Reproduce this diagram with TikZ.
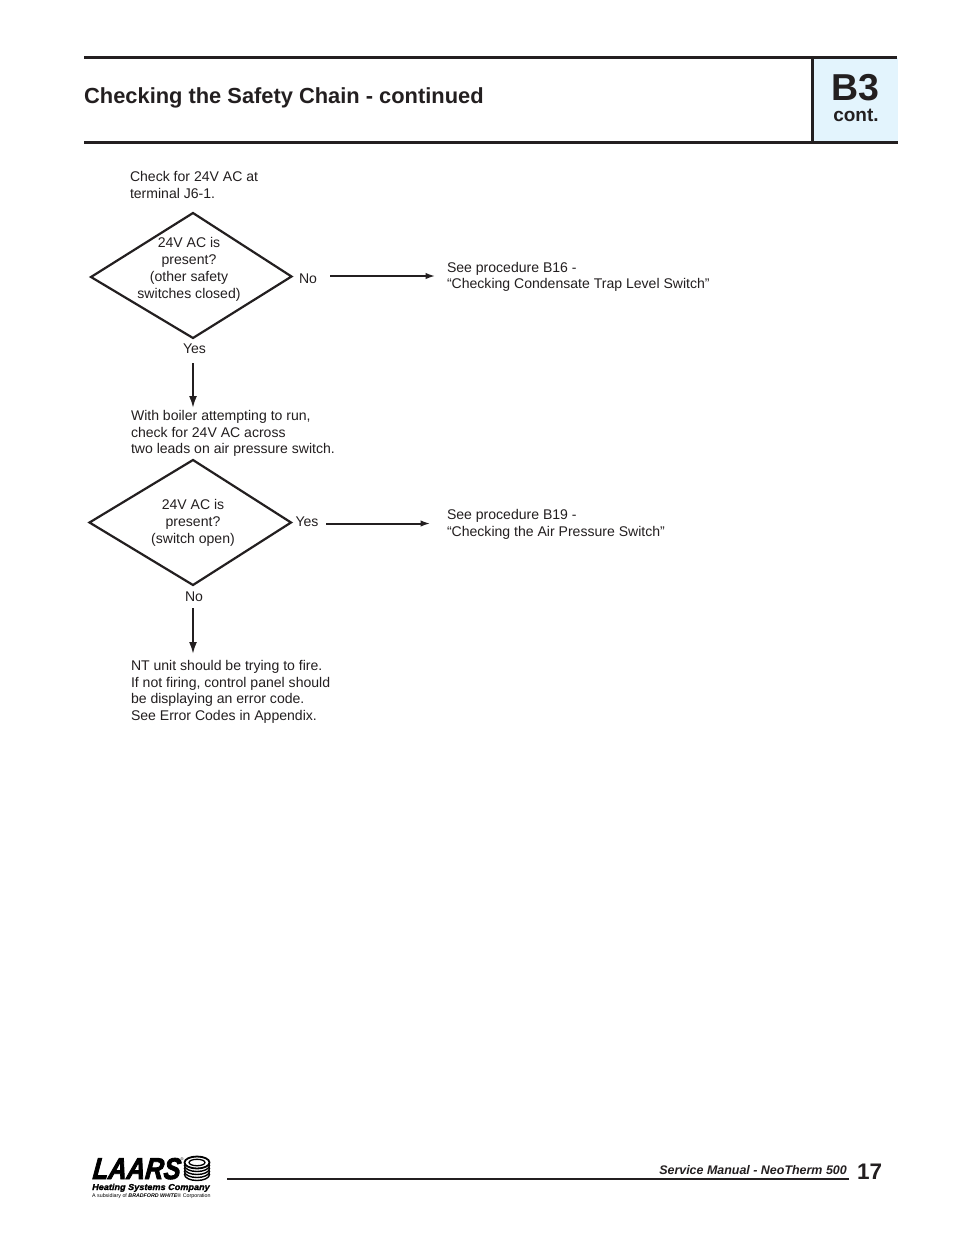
\documentclass[tikz,border=0pt]{standalone}
\usepackage{fontspec}
\setmainfont{Liberation Sans}
\newfontfamily\logofont{Liberation Sans}[BoldItalicFeatures={FakeBold=3,FakeSlant=0.12}]
\newfontfamily\logosmall{Liberation Sans}[BoldItalicFeatures={FakeBold=1.5}]
\usetikzlibrary{arrows.meta}
\definecolor{ink}{HTML}{231F20}
\definecolor{tabblue}{HTML}{E3F4FD}
\tikzset{
  txt/.style={inner sep=0pt,outer sep=0pt,text=ink,align=left,font=\fontsize{14.05}{16.6}\selectfont},
  ctxt/.style={inner sep=0pt,outer sep=0pt,text=ink,align=center,font=\fontsize{14.05}{17}\selectfont},
  lab/.style={inner sep=0pt,outer sep=0pt,text=ink,font=\fontsize{14.05}{16.6}\selectfont},
  dec/.style={draw=ink,line width=2.2pt,miter limit=10,line join=miter},
  arr/.style={draw=ink,line width=2pt,-{Latex[length=12pt,width=8pt]}},
  arrh/.style={draw=ink,line width=2pt,-{Latex[length=10pt,width=6.5pt]}},
  rule/.style={draw=ink,line width=3pt}
}
\begin{document}
\begin{tikzpicture}[x=1pt,y=-1pt]
\useasboundingbox (0,0) rectangle (954,1235);
\fill[white] (0,0) rectangle (954,1235);
% header
\fill[tabblue] (812,58) rectangle (898,142);
\draw[rule] (84,57.500) -- (897,57.500);
\draw[rule] (84,142) -- (898,142);
\draw[rule] (812,58) -- (812,142);
\node[anchor=base west,inner sep=0pt,text=ink,font=\fontsize{21.85}{26}\selectfont\bfseries] (title) at (84,103) {Checking the Safety Chain - continued};
\node[anchor=base,inner sep=0pt,text=ink,font=\fontsize{37.5}{44}\selectfont\bfseries] (b3) at (855,100) {B3};
\node[anchor=base,inner sep=0pt,text=ink,font=\fontsize{19}{22}\selectfont\bfseries] (cont) at (856,121) {cont.};
% flow
\node[txt,anchor=north west] (check) at (130,171.300) {Check for 24V AC at\\terminal J6-1.};
\draw[dec] (193,213) -- (291.500,276.500) -- (193,338) -- (91,277) -- cycle;
\node[ctxt,anchor=north] (d1t) at (189,237) {24V AC is\\present?\\(other safety\\switches closed)};
\node[lab,anchor=base west] (no1) at (299,283) {No};
\node[txt,anchor=north west] (see1) at (447,262) {See procedure B16 -\\“Checking Condensate Trap Level Switch”};
\node[lab,anchor=base] (yes1) at (194.500,353) {Yes};
\node[txt,anchor=north west] (run) at (131,410.300) {With boiler attempting to run,\\check for 24V AC across\\two leads on air pressure switch.};
\draw[dec] (193,460) -- (291,522.500) -- (193,585) -- (89.500,522.500) -- cycle;
\node[ctxt,anchor=north] (d2t) at (193,499.300) {24V AC is\\present?\\(switch open)};
\node[lab,anchor=base west] (yes2) at (295.500,526) {Yes};
\node[txt,anchor=north west] (see2) at (447,509.300) {See procedure B19 -\\“Checking the Air Pressure Switch”};
\node[lab,anchor=base] (no2) at (194,601) {No};
\node[txt,anchor=north west] (nt) at (131,660.300) {NT unit should be trying to fire.\\If not firing, control panel should\\be displaying an error code.\\See Error Codes in Appendix.};
\coordinate (a1s) at (330,276);
\coordinate (a1e) at (435.500,276);
\coordinate (a2s) at (193,363);
\coordinate (a2e) at (193,408);
\coordinate (a3s) at (326,523.500);
\coordinate (a3e) at (430.500,523.500);
\coordinate (a4s) at (193,608);
\coordinate (a4e) at (193,654);
\draw[arrh] (a1s) -- (a1e);
\draw[arr] (a2s) -- (a2e);
\draw[arrh] (a3s) -- (a3e);
\draw[arr] (a4s) -- (a4e);
% footer
\draw[draw=ink,line width=2.2pt] (227,1179) -- (849,1179);
\node[anchor=base east,inner sep=0pt,text=ink,font=\fontsize{12.45}{14}\selectfont\bfseries\itshape] (sm) at (847,1174) {Service Manual - NeoTherm 500};
\node[anchor=base west,inner sep=0pt,text=ink,font=\fontsize{22.5}{26}\selectfont\bfseries] (pg) at (857,1179) {17};
% logo
\foreach \yy in {1174.500,1171.500,1168.500,1165.500}{
  \draw[black,line width=1.4pt,fill=white] (197,\yy) ellipse (12.500pt and 6pt);
}
\draw[black,line width=1.8pt,fill=white] (197,1162.500) ellipse (12.500pt and 6pt);
\draw[black,line width=1.3pt] (197,1162.500) ellipse (8pt and 3.2pt);
\node[anchor=base west,inner sep=0pt,text=black,font=\fontsize{30}{34}\logofont\bfseries\itshape] (laars) at (92,1179) {\scalebox{0.85}[1]{LAARS}};
\node[anchor=base west,inner sep=0pt,text=black,font=\fontsize{4}{5}\selectfont] (reg) at (180.500,1160) {®};
\node[anchor=base west,inner sep=0pt,text=black,font=\fontsize{8.600}{10}\logosmall\bfseries\itshape] (hsc) at (92,1190) {\scalebox{1.06}[1]{Heating Systems Company}};
\node[anchor=base west,inner sep=0pt,text=black,font=\fontsize{5.300}{6}\selectfont] (sub) at (92,1197) {A subsidiary of \textbf{\textit{BRADFORD WHITE}}® Corporation};
\end{tikzpicture}
\end{document}
